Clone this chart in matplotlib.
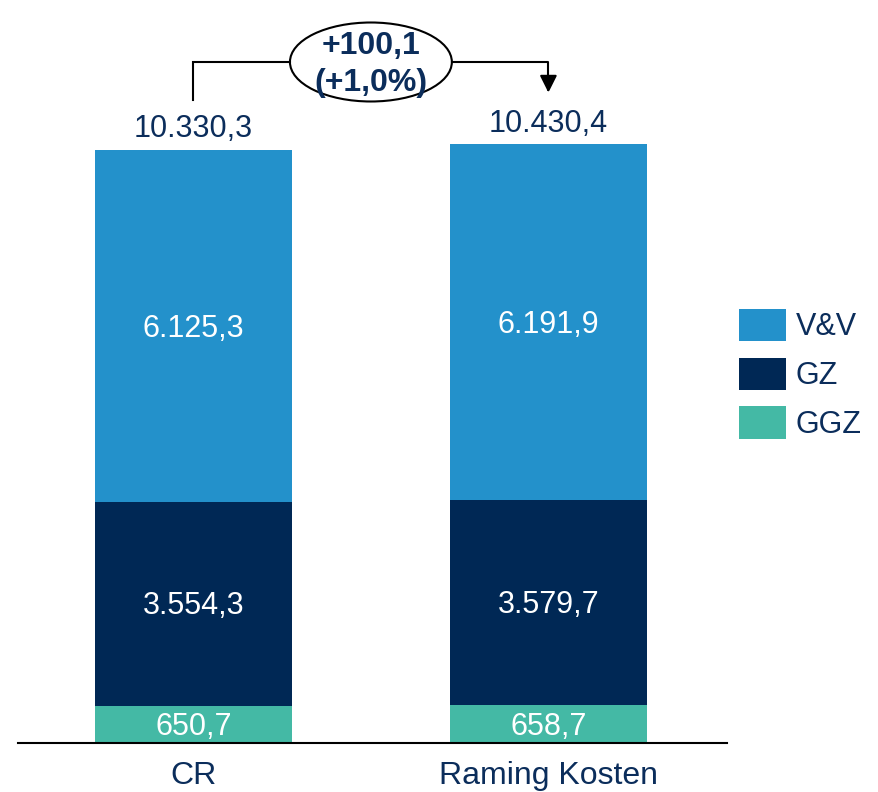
import numpy as np
import matplotlib.pyplot as plt
from matplotlib.patches import Ellipse, Patch

plt.rcParams['font.family'] = ['Liberation Sans', 'DejaVu Sans']

# Data
categories = ['CR', 'Raming Kosten']
series = ['GGZ', 'GZ', 'V&V']
ggz = [650.7, 658.7]
gz = [3554.3, 3579.7]
vv = [6125.3, 6191.9]
totals = [10330.3, 10430.4]
delta_label = '+100,1\n(+1,0%)'

colors = {'V&V': '#2391CB', 'GZ': '#002855', 'GGZ': '#44B9A5'}
navy = '#0B2D5B'


def nl_fmt(v):
    s = f'{v:,.1f}'
    return s.replace(',', 'X').replace('.', ',').replace('X', '.')


fig = plt.figure(figsize=(8.79, 7.92), dpi=100)
ax = fig.add_axes([18 / 879, 49 / 792, (727 - 18) / 879, 743 / 792])

x = np.arange(len(categories))
width = 0.555
bottom = np.zeros(len(categories))
for name, vals in zip(series, [ggz, gz, vv]):
    vals = np.array(vals)
    ax.bar(x, vals, width, bottom=bottom, color=colors[name], edgecolor='none')
    for xi, b, v in zip(x, bottom, vals):
        ax.annotate(nl_fmt(v), (xi, b + v / 2), xytext=(0, -2),
                    textcoords='offset points', ha='center', va='center',
                    color='white', fontsize=22)
    bottom += vals

# totals on top
for xi, top, t in zip(x, bottom, totals):
    ax.annotate(nl_fmt(t), (xi, top), xytext=(0, 4), textcoords='offset points',
                ha='center', va='bottom', color=navy, fontsize=22)

# bracket with ellipse
y_br = 11863
ax.plot([x[0], x[0], 0.5 - 0.228], [11201, y_br, y_br], color='black', lw=1.5,
        clip_on=False, solid_joinstyle='miter')
ax.annotate('', xy=(x[1], 11330), xytext=(0.5 + 0.228, y_br),
            arrowprops=dict(arrowstyle='-|>', color='black', lw=1.5,
                            connectionstyle='angle,angleA=0,angleB=90,rad=0',
                            shrinkA=0, shrinkB=0, mutation_scale=26),
            annotation_clip=False)
ax.add_patch(Ellipse((0.5, y_br), 0.456, 1376, facecolor='white',
                     edgecolor='black', lw=1.5, clip_on=False))
ax.annotate(delta_label, (0.5, y_br), xytext=(0, -2), textcoords='offset points',
            ha='center', va='center', color=navy,
            fontsize=23, fontweight='bold', linespacing=1.3)

ax.set_xlim(-0.494, 1.503)
ax.set_ylim(0, 12943)
ax.set_xticks(x)
ax.set_xticklabels(categories, color=navy, fontsize=23)
ax.tick_params(axis='x', length=0, pad=13)
ax.set_yticks([])
for side in ['top', 'right', 'left']:
    ax.spines[side].set_visible(False)
ax.spines['bottom'].set_linewidth(1.5)

handles = [Patch(facecolor=colors[n], label=n) for n in ['V&V', 'GZ', 'GGZ']]
leg = fig.legend(handles=handles, loc='upper left',
                 bbox_to_anchor=(739 / 879, 1 - 309 / 792), frameon=False,
                 fontsize=22, handlelength=1.55, handleheight=1.25,
                 handletextpad=0.3, labelspacing=0.5, borderpad=0,
                 borderaxespad=0)
for t in leg.get_texts():
    t.set_color(navy)

fig.savefig('out.png', dpi=100)
